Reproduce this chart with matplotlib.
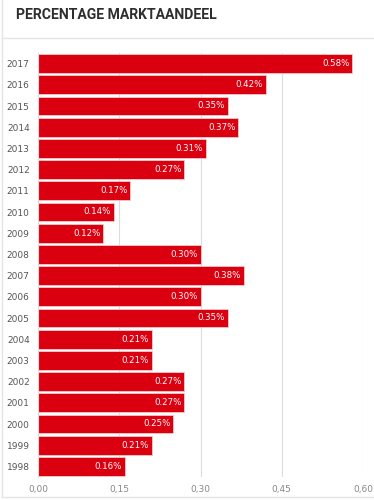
import matplotlib.pyplot as plt
from matplotlib.lines import Line2D
import numpy as np

years = ["2017", "2016", "2015", "2014", "2013", "2012", "2011", "2010", "2009", "2008",
         "2007", "2006", "2005", "2004", "2003", "2002", "2001", "2000", "1999", "1998"]
share = [0.58, 0.42, 0.35, 0.37, 0.31, 0.27, 0.17, 0.14, 0.12, 0.30,
         0.38, 0.30, 0.35, 0.21, 0.21, 0.27, 0.27, 0.25, 0.21, 0.16]
xticks = [0.0, 0.15, 0.30, 0.45, 0.60]
xtick_labels = ["0,00", "0,15", "0,30", "0,45", "0,60"]

RED = "#db0010"
GRID = "#dcdcdc"
TXT = "#555555"

fig = plt.figure(figsize=(3.74, 5.0), dpi=100)
W, H = 374, 500

# card frame and header separator
for xs, ys in [([2, 2], [0, 497]), ([2, 374], [37.5, 37.5]), ([2, 374], [497, 497])]:
    fig.add_artist(Line2D([x / W for x in xs], [1 - y / H for y in ys],
                          color="#e4e4e4", lw=1.0))

fig.text(16 / W, 1 - 15 / H, "PERCENTAGE MARKTAANDEEL", family="Roboto",
         fontweight="bold", fontsize=10.1, color="#2e2e2e", va="center", ha="left")

ax = fig.add_axes([38 / W, 1 - 477 / H, 325 / W, 424 / H])
y = np.arange(len(years))
ax.barh(y, share, height=0.88, color=RED, edgecolor="#f3c9c9", linewidth=0.6, zorder=2)

for yi, v in zip(y, share):
    ax.text(v - 0.005, yi, f"{v:.2f}%", color="white", fontsize=6.2,
            ha="right", va="center", family="DejaVu Sans", zorder=3)

ax.set_xlim(0, 0.6)
ax.set_ylim(len(years) - 0.5, -0.5)
ax.set_yticks(y)
ax.set_yticklabels(years)
ax.set_xticks(xticks)
ax.set_xticklabels(xtick_labels)
ax.tick_params(axis="both", length=0, labelsize=6.5, labelcolor=TXT)
ax.tick_params(axis="y", pad=6)
ax.tick_params(axis="x", pad=6)
for lab in ax.get_xticklabels():
    lab.set_color("#888888")
ax.grid(axis="x", color=GRID, lw=0.8, zorder=0)
ax.grid(axis="y", visible=False)
for s in ["top", "right", "bottom"]:
    ax.spines[s].set_visible(False)
ax.spines["left"].set_color(GRID)
ax.spines["left"].set_linewidth(0.8)
ax.set_facecolor("white")

fig.savefig("out.png", dpi=100)
